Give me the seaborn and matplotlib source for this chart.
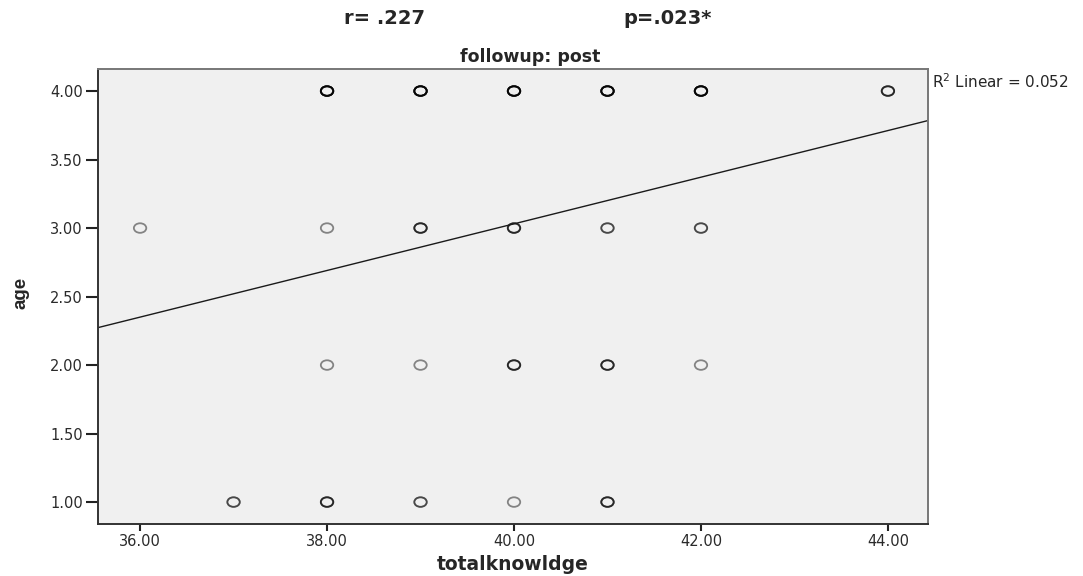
#!/usr/bin/env python3
"""
SPSS-style scatter of age against totalknowldge (followup: post)
with a linear fit line.
"""
import matplotlib
matplotlib.use("Agg")
import matplotlib.pyplot as plt
import numpy as np
import pandas as pd
import seaborn as sns
from matplotlib.markers import MarkerStyle
from matplotlib.path import Path

# unique (x, y) positions and how many cases sit on each one
knowledge = [38, 39, 40, 41, 42, 44,
             36, 38, 39, 40, 41, 42,
             38, 39, 40, 41, 42,
             37, 38, 39, 40, 41]
age = [4, 4, 4, 4, 4, 4,
       3, 3, 3, 3, 3, 3,
       2, 2, 2, 2, 2,
       1, 1, 1, 1, 1]
counts = [6, 6, 6, 6, 6, 3,
          1, 1, 3, 3, 2, 2,
          1, 1, 3, 3, 1,
          2, 3, 2, 1, 3]

x_ticks = [36, 38, 40, 42, 44]
y_ticks = [1.0, 1.5, 2.0, 2.5, 3.0, 3.5, 4.0]

r_text = "r= .227"
p_text = "p=.023*"
title = "followup: post"
fit_text = "R$^2$ Linear = 0.052"

rows = []
for xv, yv, n in zip(knowledge, age, counts):
    rows += [(xv, yv)] * n
df = pd.DataFrame(rows, columns=["totalknowldge", "age"])

sns.set_style("white")
plt.rcParams["font.family"] = ["DejaVu Sans"]
plt.rcParams["mathtext.fontset"] = "dejavusans"

# the SPSS export is stretched sideways, so the rings are slightly wide
ring = Path.unit_circle()
ring = Path(ring.vertices * np.array([1.3, 1.0]), ring.codes)

fig = plt.figure(figsize=(10.83, 5.76), dpi=100)
ax = fig.add_axes([0.0905, 0.0903, 0.7665, 0.7897])
ax.set_facecolor("#f0f0f0")
ax.set_xlim(35.55, 44.43)
ax.set_ylim(0.84, 4.16)

# overlapping translucent rings get darker where cases pile up
sns.scatterplot(data=df, x="totalknowldge", y="age", ax=ax,
                marker=MarkerStyle(ring), s=80, facecolor="none",
                edgecolor=(0, 0, 0, 0.45), linewidth=1.3, legend=False)
sns.regplot(data=df, x="totalknowldge", y="age", ax=ax, scatter=False,
            ci=None, truncate=False,
            line_kws={"color": "#1a1a1a", "linewidth": 1.0})

ax.set_xticks(x_ticks)
ax.set_xticklabels([f"{v:.2f}" for v in x_ticks])
ax.set_yticks(y_ticks)
ax.set_yticklabels([f"{v:.2f}" for v in y_ticks])
ax.tick_params(direction="out", width=1.5, color="#222222",
               labelsize=10.5, labelcolor="#2a2a2a",
               bottom=True, left=True)
ax.tick_params(axis="x", length=5, pad=2)
ax.tick_params(axis="y", length=9, pad=2)
for side in ax.spines.values():
    side.set_color("#333333")
    side.set_linewidth(1.4)
ax.spines["top"].set_color("#777777")
ax.spines["right"].set_color("#777777")

ax.set_xlabel("totalknowldge", fontsize=13.5, fontweight="bold")
ax.xaxis.set_label_coords(0.5, -0.090)
ax.xaxis.label.set_va("center")
ax.set_ylabel("age", fontsize=13.5, fontweight="bold",
              family=["Liberation Sans", "DejaVu Sans"])
ax.yaxis.set_label_coords(-0.093, 0.508)
ax.yaxis.label.set_va("center")

fig.text(530 / 1083, 1 - 57 / 576, title, ha="center", va="center",
         fontsize=12.5, fontweight="bold")
fig.text(385 / 1083, 1 - 19 / 576, r_text, ha="center", va="center",
         fontsize=14, fontweight="bold")
fig.text(668 / 1083, 1 - 19 / 576, p_text, ha="center", va="center",
         fontsize=14, fontweight="bold")
fig.text(932 / 1083, 1 - 82 / 576, fit_text, ha="left", va="center",
         fontsize=11)

plt.savefig("out.png", dpi=100)
